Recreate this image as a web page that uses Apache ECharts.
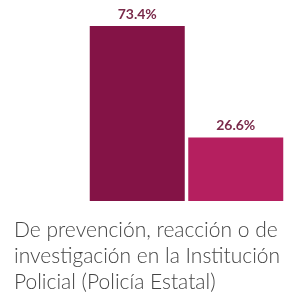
<!DOCTYPE html>
<html>
<head>
<meta charset="utf-8">
<script src="https://cdn.jsdelivr.net/npm/echarts@6/dist/echarts.min.js"></script>
<style>
  html, body { margin: 0; padding: 0; background: #fff; }
  #chart { width: 297px; height: 301px; }
</style>
</head>
<body>
<div id="chart"></div>
<script>
// datos de la gráfica
var categorias = ['Sí', 'No'];
var valores = [73.4, 26.6];
var colores = ['#841346', '#b51f5f'];
var leyenda = 'De prevención, reacción o de\ninvestigación en la Institución\nPolicial (Policía Estatal)';

var myChart = echarts.init(document.getElementById('chart'));
myChart.setOption({
  animation: false,
  grid: { left: 88, right: 12, top: 26, bottom: 100 },
  title: {
    text: leyenda,
    left: 9,
    top: 212,
    textStyle: {
      fontFamily: 'Lato',
      fontSize: 21,
      fontWeight: 300,
      lineHeight: 26,
      color: '#444'
    }
  },
  xAxis: {
    type: 'category',
    data: categorias,
    show: false
  },
  yAxis: {
    type: 'value',
    min: 0,
    max: 73.4,
    show: false
  },
  series: [{
    type: 'bar',
    barWidth: 95,
    data: valores.map(function (v, i) {
      return { value: v, itemStyle: { color: colores[i] } };
    }),
    label: {
      show: true,
      position: 'top',
      distance: 5,
      formatter: function (p) { return p.value.toFixed(1) + '%'; },
      fontFamily: 'Lato',
      fontSize: 14,
      fontWeight: 'bold',
      color: '#7a2a4a'
    }
  }]
});
</script>
</body>
</html>
